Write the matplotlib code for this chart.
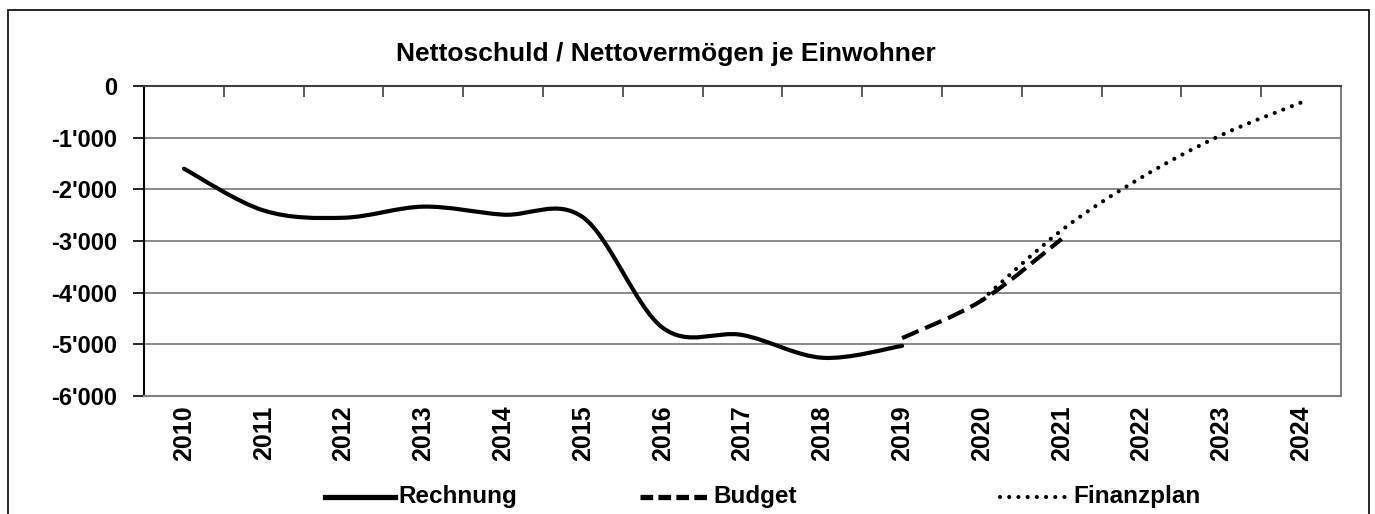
import matplotlib.pyplot as plt
from matplotlib.path import Path
from matplotlib.patches import PathPatch, Rectangle
from matplotlib.lines import Line2D
from matplotlib.ticker import FuncFormatter

plt.rcParams['font.family'] = ['Liberation Sans', 'DejaVu Sans']
plt.rcParams['font.weight'] = 'bold'

# data (values per inhabitant, CHF)
rechnung_years = [2010, 2011, 2012, 2013, 2014, 2015, 2016, 2017, 2018, 2019]
rechnung = [-1600, -2410, -2550, -2335, -2490, -2540, -4680, -4820, -5260, -5030]
budget_years = [2019, 2020, 2021]
budget = [-4880, -4150, -2960]
plan_years = [2020, 2021, 2022, 2023, 2024]
finanzplan = [-4140, -2790, -1770, -950, -320]
all_years = list(range(2010, 2025))
series_names = ['Rechnung', 'Budget', 'Finanzplan']

W, H = 1375, 514


def smooth_path(xs, ys):
    # Excel-like smoothed line: cubic Bezier with Catmull-Rom control points
    pts = list(zip(xs, ys))
    verts = [pts[0]]
    codes = [Path.MOVETO]
    for i in range(len(pts) - 1):
        p0 = pts[max(i - 1, 0)]
        p1 = pts[i]
        p2 = pts[i + 1]
        p3 = pts[min(i + 2, len(pts) - 1)]
        c1 = (p1[0] + (p2[0] - p0[0]) / 6, p1[1] + (p2[1] - p0[1]) / 6)
        c2 = (p2[0] - (p3[0] - p1[0]) / 6, p2[1] - (p3[1] - p1[1]) / 6)
        verts += [c1, c2, p2]
        codes += [Path.CURVE4] * 3
    return Path(verts, codes)


fig = plt.figure(figsize=(13.75, 5.14), dpi=100)
ax = fig.add_axes([144 / W, 1 - 396 / H, 1197 / W, 310 / H])

# outer chart border
fig.patches.append(Rectangle((8 / W, -0.05), 1361 / W, 1.05 - 10 / H,
                             transform=fig.transFigure, fill=False,
                             edgecolor='black', linewidth=1.2))

ax.set_xlim(2009.5, 2024.5)
ax.set_ylim(-6000, 0)

ax.set_yticks(range(-6000, 1, 1000))
ax.yaxis.set_major_formatter(FuncFormatter(
    lambda v, p: '0' if v == 0 else f"{int(v):,}".replace(',', "'")))
ax.yaxis.grid(True, color='#808080', linewidth=1.3)
ax.set_axisbelow(True)

# category axis sits at 0 (top), labels at the bottom
ax.set_xticks([y + 0.5 for y in range(2009, 2024)])
ax.set_xticks(all_years, minor=True)
ax.set_xticklabels([str(y) for y in all_years], minor=True, rotation=90,
                   fontsize=18, fontweight='bold')
ax.tick_params(axis='x', which='major', top=True, bottom=False,
               labelbottom=False, direction='in', length=8, width=1.2,
               color='#404040')
ax.tick_params(axis='x', which='minor', bottom=True, length=0, pad=7)
ax.tick_params(axis='y', direction='out', length=8, width=1.2, pad=11,
               labelsize=17)
for lab in ax.get_yticklabels():
    lab.set_fontweight('bold')

for side in ['right', 'bottom']:
    ax.spines[side].set_color('#808080')
    ax.spines[side].set_linewidth(1.5)
ax.spines['top'].set_color('#404040')
ax.spines['top'].set_linewidth(1.5)
ax.spines['left'].set_color('black')
ax.spines['left'].set_linewidth(1.5)

styles = [
    dict(linestyle='-', capstyle='round'),
    dict(linestyle=(0, (4.3, 1.7)), capstyle='butt'),
    dict(linestyle=(0, (0.01, 2.2)), capstyle='round'),
]
for (xs, ys), st in zip([(rechnung_years, rechnung), (budget_years, budget),
                         (plan_years, finanzplan)], styles):
    ax.add_patch(PathPatch(smooth_path(xs, ys), fill=False, edgecolor='black',
                           linewidth=3, joinstyle='round', **st))

fig.text(666 / W, 1 - 54 / H, 'Nettoschuld / Nettovermögen je Einwohner',
         ha='center', va='center', fontsize=19, fontweight='bold')

# legend drawn by hand, entries at Excel's spacing
legend_x = [325, 640, 1000]
legend_styles = [
    dict(linewidth=3.8, linestyle='-'),
    dict(linewidth=3.8, linestyle=(0, (2.4, 1.0))),
    dict(linewidth=3.0, linestyle=(0, (0.01, 2.2)), dash_capstyle='round'),
]
ly = 1 - 497 / H
for x0, name, st in zip(legend_x, series_names, legend_styles):
    fig.add_artist(Line2D([x0 / W, (x0 + 70) / W], [ly, ly], color='black',
                          transform=fig.transFigure, **st))
    fig.text((x0 + 73) / W, ly, name, ha='left', va='center', fontsize=17.5,
             fontweight='bold')

fig.savefig('out.png', dpi=100)
